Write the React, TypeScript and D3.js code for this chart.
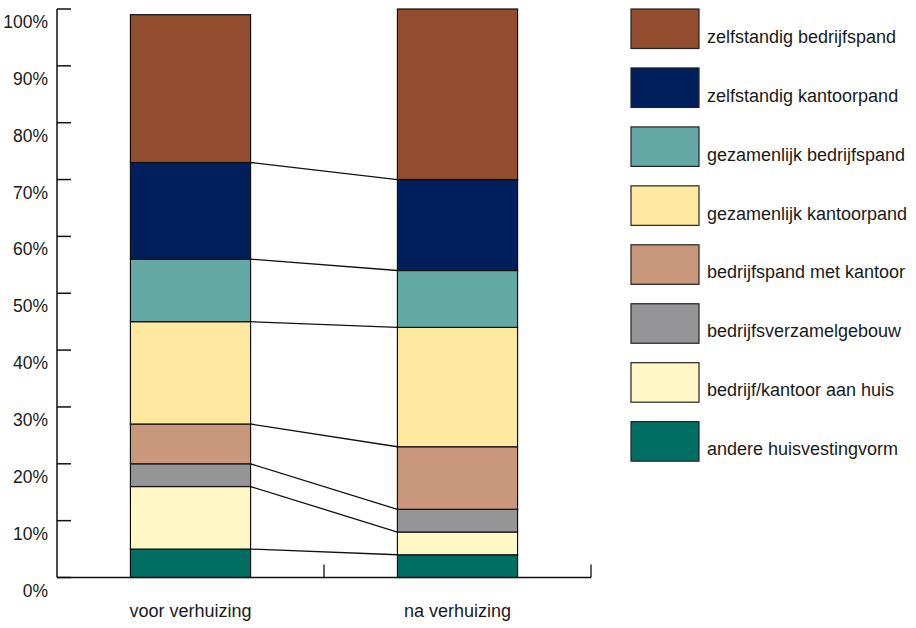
import React from "react";
import * as d3 from "d3";

// Housing type shares (%) before and after relocation, listed top of stack first
const categories = ["voor verhuizing", "na verhuizing"];
const seriesNames = [
  "zelfstandig bedrijfspand",
  "zelfstandig kantoorpand",
  "gezamenlijk bedrijfspand",
  "gezamenlijk kantoorpand",
  "bedrijfspand met kantoor",
  "bedrijfsverzamelgebouw",
  "bedrijf/kantoor aan huis",
  "andere huisvestingvorm",
];
const voorValues = [26, 17, 11, 18, 7, 4, 11, 5];
const naValues = [30, 16, 10, 21, 11, 4, 4, 4];
const seriesColors = [
  "#914d2e",
  "#001f5b",
  "#64a9a5",
  "#ffe9a1",
  "#c8977c",
  "#959598",
  "#fff8c6",
  "#006e63",
];
const yTicks = [0, 10, 20, 30, 40, 50, 60, 70, 80, 90, 100];

const W = 916;
const H = 628;
const FONT = "'Liberation Sans', Arial, sans-serif";

export default function App() {
  const y = d3.scaleLinear().domain([0, 100]).range([577.5, 9]);
  const x = d3.scaleBand<string>().domain(categories).range([57, 591]).padding(0);
  const barW = x.bandwidth() * 0.45;

  // one row per category, keyed by series name; stacked bottom-up
  const rows = categories.map((c, ci) => {
    const vals = ci === 0 ? voorValues : naValues;
    const row: Record<string, number | string> = { category: c };
    seriesNames.forEach((s, i) => (row[s] = vals[i]));
    return row;
  });
  const stackKeys = [...seriesNames].reverse();
  const stacked = d3.stack<any>().keys(stackKeys)(rows as any);

  const barLeft = (c: string) => (x(c) as number) + (x.bandwidth() - barW) / 2;

  // connectors join each series' upper edge across the two bars (top series excluded)
  const connectors = stacked.slice(0, stacked.length - 1).map((layer) => ({
    key: layer.key,
    x1: barLeft(categories[0]) + barW,
    y1: y(layer[0][1]),
    x2: barLeft(categories[1]),
    y2: y(layer[1][1]),
  }));

  const legendX = 631;
  const legendY0 = 9;
  const legendStep = 58.95;

  return (
    <svg
      width={W}
      height={H}
      style={{ position: "absolute", left: 0, top: 0, background: "#fff" }}
      fontFamily={FONT}
    >
      {/* bars */}
      {stacked.map((layer) => {
        const idx = seriesNames.indexOf(layer.key);
        return layer.map((d, ci) => (
          <rect
            key={layer.key + ci}
            x={barLeft(categories[ci])}
            y={y(d[1])}
            width={barW}
            height={y(d[0]) - y(d[1])}
            fill={seriesColors[idx]}
            stroke="#111"
            strokeWidth={1.2}
          />
        ));
      })}

      {/* connectors */}
      {connectors.map((c) => (
        <line
          key={c.key}
          x1={c.x1}
          y1={c.y1}
          x2={c.x2}
          y2={c.y2}
          stroke="#111"
          strokeWidth={1.3}
        />
      ))}

      {/* y axis */}
      <line x1={57} x2={57} y1={y(100)} y2={y(0)} stroke="#111" strokeWidth={1.5} />
      {yTicks.map((t) => (
        <g key={t}>
          <line x1={57} x2={71} y1={y(t)} y2={y(t)} stroke="#111" strokeWidth={1.5} />
          <text x={48} y={y(t) + 19} textAnchor="end" fontSize={17.5} fill="#1a1a1a">
            {t}%
          </text>
        </g>
      ))}

      {/* x axis */}
      <line x1={57} x2={591} y1={y(0)} y2={y(0)} stroke="#111" strokeWidth={1.5} />
      {categories.map((c) => (
        <line
          key={c}
          x1={(x(c) as number) + x.bandwidth()}
          x2={(x(c) as number) + x.bandwidth()}
          y1={y(0)}
          y2={y(0) - 13}
          stroke="#111"
          strokeWidth={1.3}
        />
      ))}
      {categories.map((c) => (
        <text
          key={c}
          x={(x(c) as number) + x.bandwidth() / 2}
          y={616.5}
          textAnchor="middle"
          fontSize={18}
          fill="#1a1a1a"
        >
          {c}
        </text>
      ))}

      {/* legend */}
      {seriesNames.map((s, i) => (
        <g key={s} transform={`translate(${legendX},${legendY0 + i * legendStep})`}>
          <rect width={68} height={39.5} fill={seriesColors[i]} stroke="#222" strokeWidth={1.2} />
          <text x={76} y={33.7} fontSize={18} fill="#1a1a1a">
            {s}
          </text>
        </g>
      ))}
    </svg>
  );
}
